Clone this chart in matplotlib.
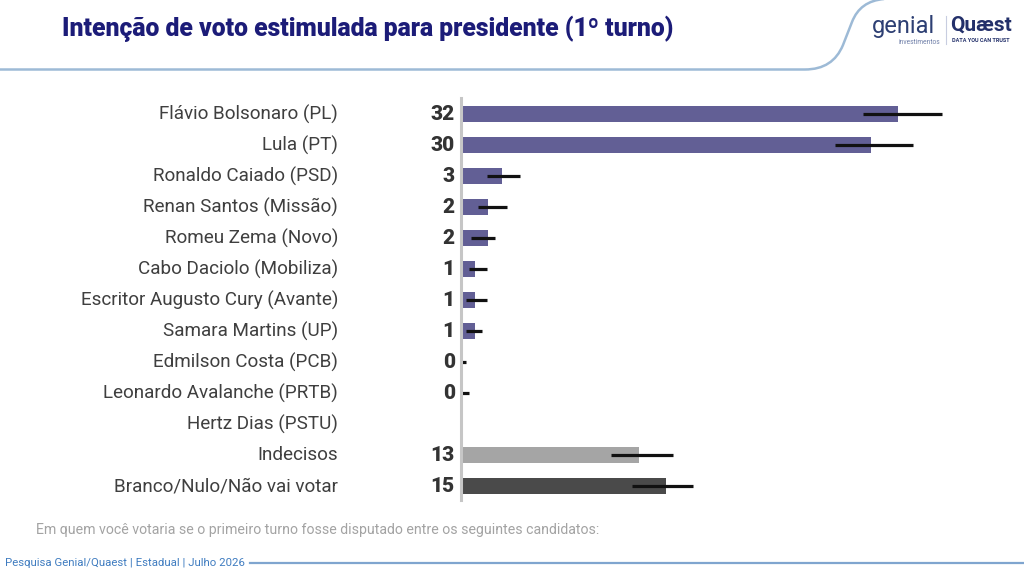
import matplotlib
matplotlib.use("Agg")
import matplotlib.pyplot as plt
from matplotlib.path import Path
from matplotlib.patches import PathPatch
import numpy as np

# data
names = ["Flávio Bolsonaro (PL)", "Lula (PT)", "Ronaldo Caiado (PSD)", "Renan Santos (Missão)",
         "Romeu Zema (Novo)", "Cabo Daciolo (Mobiliza)", "Escritor Augusto Cury (Avante)",
         "Samara Martins (UP)", "Edmilson Costa (PCB)", "Leonardo Avalanche (PRTB)",
         "Hertz Dias (PSTU)", "Indecisos", "Branco/Nulo/Não vai votar"]
values = [32, 30, 3, 2, 2, 1, 1, 1, 0, 0, np.nan, 13, 15]
ci_low = [29.4, 27.4, 1.9, 1.25, 0.75, 0.55, 0.4, 0.4, 0.0, 0.0, np.nan, 11.0, 12.55]
ci_high = [35.2, 33.1, 4.3, 3.35, 2.5, 1.9, 1.9, 1.55, 0.4, 0.55, np.nan, 15.5, 17.0]

purple = "#625f95"
bar_colors = [purple] * 11 + ["#a5a5a5", "#4a4a4a"]

W, H = 1024, 574
fig = plt.figure(figsize=(W / 100, H / 100), dpi=100)
plt.rcParams["font.family"] = ["Roboto", "DejaVu Sans"]

# background decorations in pixel coords
deco = fig.add_axes([0, 0, 1, 1])
deco.set_xlim(0, W)
deco.set_ylim(H, 0)
deco.axis("off")

# header line with curved end
verts = [(0, 69.5), (805, 69.5), (833, 69.5), (843, 45), (852, 22), (860, 1), (884, -1)]
codes = [Path.MOVETO, Path.LINETO, Path.CURVE3, Path.CURVE3, Path.LINETO, Path.CURVE3, Path.CURVE3]
deco.add_patch(PathPatch(Path(verts, codes), fill=False, edgecolor="#9dbad6", lw=1.8))

deco.text(62, 29, "Intenção de voto estimulada para presidente (1º turno)",
          fontsize=17.8, fontweight="heavy", color="#1c1c78", va="center", ha="left")

# logos (as text)
deco.text(872, 26, "genial", fontsize=17, color="#2d3f73", va="center", ha="left")
deco.text(940, 42, "investimentos", fontsize=4.8, color="#6f7fa8", va="center", ha="right")
deco.plot([946, 946], [16, 44], color="#c8cde0", lw=0.8)
deco.text(950, 25, "Quæst", fontsize=15, fontweight="bold", color="#23306a", va="center", ha="left")
deco.text(952, 40, "DATA YOU CAN TRUST", fontsize=4, fontweight="bold", color="#23306a",
          va="center", ha="left")

deco.text(36, 530, "Em quem você votaria se o primeiro turno fosse disputado entre os seguintes candidatos:",
          fontsize=10.2, color="#a3a3a3", va="center", ha="left")

deco.text(5, 563, "Pesquisa Genial/Quaest | Estadual | Julho 2026", fontsize=8.2,
          color="#3f7cc0", va="center", ha="left")
deco.plot([250, W], [563, 563], color="#7fa5cf", lw=1.6)

# main bar chart
scale = 13.66  # px per percentage point
x0 = 461
xmax = 40
ax = fig.add_axes([x0 / W, (H - 500) / H, xmax * scale / W, 402 / H])
y = np.arange(len(names))
ax.barh(y, values, height=0.52, color=bar_colors)
ax.hlines(y, ci_low, ci_high, color="#111111", lw=2.3)

for yi, name, v in zip(y, names, values):
    ax.text(-9.0, yi, name, ha="right", va="center", fontsize=13.6, color="#3f3f3f", clip_on=False)
    if not np.isnan(v):
        ax.text(-0.45, yi, f"{v:.0f}", ha="right", va="center", fontsize=15,
                fontweight="heavy", color="#333333", clip_on=False)

ax.set_xlim(0, xmax)
ax.set_ylim(12.45, -0.52)
ax.set_xticks([])
ax.set_yticks([])
for s in ["top", "right", "bottom"]:
    ax.spines[s].set_visible(False)
ax.spines["left"].set_color("#c6c6c6")
ax.spines["left"].set_linewidth(2.2)
ax.patch.set_alpha(0)

fig.savefig("out.png", dpi=100)
